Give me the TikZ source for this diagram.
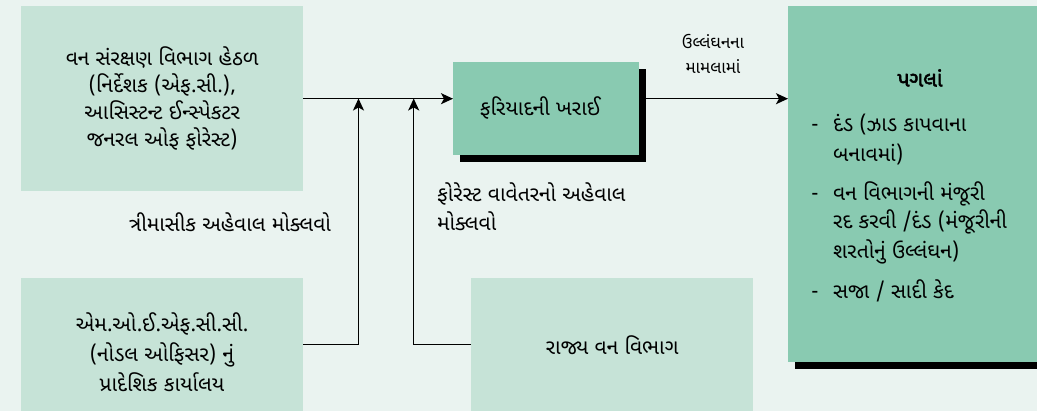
\documentclass[tikz,border=0pt]{standalone}
\usepackage{fontspec}
\newfontfamily\guj[Script=Gujarati,AutoFakeBold=2.5]{Noto Sans Gujarati UI}
\usetikzlibrary{arrows.meta,shadows}
\definecolor{bgc}{HTML}{EAF3F0}
\definecolor{lightc}{HTML}{C6E3D7}
\definecolor{darkc}{HTML}{89CAB1}
\tikzset{
  boxbase/.style={draw=none, anchor=north west, inner sep=0pt, align=center, font=\guj\fontsize{21}{27}\selectfont},
  lightbox/.style={boxbase, fill=lightc},
  darkbox/.style={boxbase, fill=darkc,
     drop shadow={fill=black, opacity=1, shadow xshift=6.5pt, shadow yshift=-6.5pt}},
  txt/.style={inner sep=0pt, font=\guj\fontsize{21}{29}\selectfont},
  small/.style={inner sep=0pt, font=\guj\fontsize{17}{25}\selectfont},
  conn/.style={line width=1.5pt, draw=black},
  arr/.style={conn, -{Stealth[length=12pt,width=11pt,inset=3pt]}}
}
\begin{document}
\begin{tikzpicture}[x=1pt,y=-1pt]
\fill[bgc] (0,0) rectangle (1037,411);
\useasboundingbox (0,0) rectangle (1037,411);
% boxes
\node[lightbox, minimum width=282pt, minimum height=185pt] (A) at (21,6)
  {વન સંરક્ષણ વિભાગ હેઠળ\\(નિર્દેશક (એફ.સી.),\\આસિસ્ટન્ટ ઈન્સ્પેકટર\\જનરલ ઓફ ફોરેસ્ટ)};
\node[lightbox, minimum width=282pt, minimum height=133pt] (B) at (21,278) {};
\node[boxbase, anchor=center, font=\guj\fontsize{21}{30}\selectfont] (bt) at (162,352)
  {એમ.ઓ.ઈ.એફ.સી.સી.\\(નોડલ ઓફિસર) નું\\પ્રાદેશિક કાર્યાલય};
\node[lightbox, minimum width=282pt, minimum height=133pt] (E) at (471,278)
  {રાજ્ય વન વિભાગ};
\node[darkbox, minimum width=186pt, minimum height=93pt] (C) at (453,62) {};
\node[txt] (ct) at (540,108) {ફરિયાદની ખરાઈ};
\node[darkbox, minimum width=260pt, minimum height=356pt] (D) at (788,6) {};
% right box content
\node[txt, anchor=base] (title) at (920,86.5) {\bfseries પગલાં};
\node[txt, anchor=base] (d1) at (815,131.5) {-};
\node[txt, anchor=base west] (i1a) at (833,131.5) {દંડ (ઝાડ કાપવાના};
\node[txt, anchor=base west] (i1b) at (833,161.5) {બનાવમાં)};
\node[txt, anchor=base] (d2) at (815,200.5) {-};
\node[txt, anchor=base west] (i2a) at (833,200.5) {વન વિભાગની મંજૂરી};
\node[txt, anchor=base west] (i2b) at (833,228.5) {રદ કરવી /દંડ (મંજૂરીની};
\node[txt, anchor=base west] (i2c) at (833,258.5) {શરતોનું ઉલ્લંઘન)};
\node[txt, anchor=base] (d3) at (815,298.5) {-};
\node[txt, anchor=base west] (i3) at (833,298.5) {સજા / સાદી કેદ};
% labels
\node[small, anchor=base] (lv1) at (713,48.5) {ઉલ્લંઘનના};
\node[small, anchor=base] (lv2) at (713,73.5) {મામલામાં};
\node[txt, anchor=base west] (lf1) at (437,201.5) {ફોરેસ્ટ વાવેતરનો અહેવાલ};
\node[txt, anchor=base west] (lf2) at (437,230.5) {મોક્લવો};
\node[txt, anchor=base] (lt) at (230,231.5) {ત્રીમાસીક અહેવાલ મોક્લવો};
% connectors
\coordinate (j1) at (358.5,98.5);
\coordinate (j2) at (413.7,98.5);
\draw[arr] (A.east) -- (A.east -| C.west);
\draw[arr] (B.east) -| (j1);
\draw[arr] (E.west) -| (j2);
\draw[arr] (C.east |- A.east) -- (A.east -| D.west);
\end{tikzpicture}
\end{document}
